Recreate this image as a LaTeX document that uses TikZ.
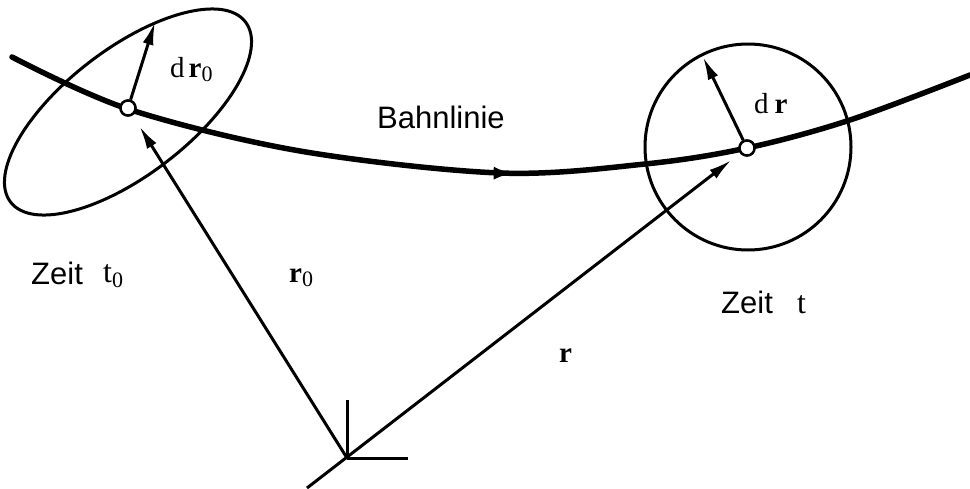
\documentclass[tikz,border=0pt]{standalone}
\usepackage{fontspec}
\setmainfont{Liberation Serif}
\newfontfamily\sansf{Liberation Sans}
\usetikzlibrary{arrows.meta,decorations.markings}
\newcommand{\subz}[1]{\raisebox{-0.35ex}{\fontsize{22}{24}\selectfont #1}}
\begin{document}
\begin{tikzpicture}[x=1pt,y=-1pt,
  thinline/.style={line width=3pt},
  vec/.style={line width=3pt,-{Latex[length=23pt,width=11pt]}},
  bahn/.style={line width=5.5pt,line cap=round},
  dot/.style={circle,draw,line width=2.4pt,fill=white,inner sep=0pt,minimum size=15pt},
  lab/.style={font=\fontsize{29}{32}\selectfont,inner sep=0pt,anchor=base west},
  tlab/.style={font=\fontsize{32}{36}\selectfont,inner sep=0pt,anchor=base west},
  slab/.style={font=\sansf\fontsize{31}{35}\selectfont,inner sep=0pt,anchor=base west}]
\useasboundingbox (0,0) rectangle (970,488);
% coordinates
\coordinate (O) at (347,458);
\coordinate (Rend) at (307,488);
\coordinate (T0) at (155,22);
\coordinate (T) at (703,57);
% ellipse and circle
\draw[thinline,rotate around={37.5:(128,112)}] (128,112) ellipse [x radius=148pt,y radius=63pt];
\node[circle,draw,line width=3pt,minimum size=206pt,inner sep=0pt] (C) at (748,147) {};
% trajectory
\draw[bahn,decoration={markings,mark=at position 0.525 with {\arrow{Latex[length=20pt,width=13pt]}}},postaction=decorate]
  plot[smooth,tension=0.55] coordinates {(12,57) (128,109) (300,151) (500,173) (645,164) (747,148) (850,120) (970,75)};
% origin ticks
\draw[thinline] (O) -- ++(0,-58);
\draw[thinline] (O) -- ++(61,0);
% dots
\node[dot] (p0) at (128,108) {};
\node[dot] (p) at (747,148) {};
% vectors
\draw[vec,shorten >=13pt] (O) -- (p0);
\draw[vec,shorten >=11pt] (Rend) -- (p);
\draw[vec] (p0) -- (T0);
\draw[vec] (p) -- (T);
\node[dot] at (p0) {};
\node[dot] at (p) {};
% labels
\node[lab] (ldr0) at (170,77) {d\hspace{4pt}\textbf{r}\subz{0}};
\node[lab] (ldr) at (754,113) {d\hspace{6pt}\textbf{r}};
\node[slab] (lbahn) at (377,128) {Bahnlinie};
\node[slab] (lz0) at (31,284) {Zeit};
\node[tlab] (lt0) at (103,282) {t\subz{0}};
\node[slab] (lz) at (721,313) {Zeit};
\node[tlab] (lt) at (797,313) {t};
\node[lab] (lr0) at (289,282) {\textbf{r}\subz{0}};
\node[lab] (lr) at (559,362) {\textbf{r}};
\end{tikzpicture}
\end{document}
